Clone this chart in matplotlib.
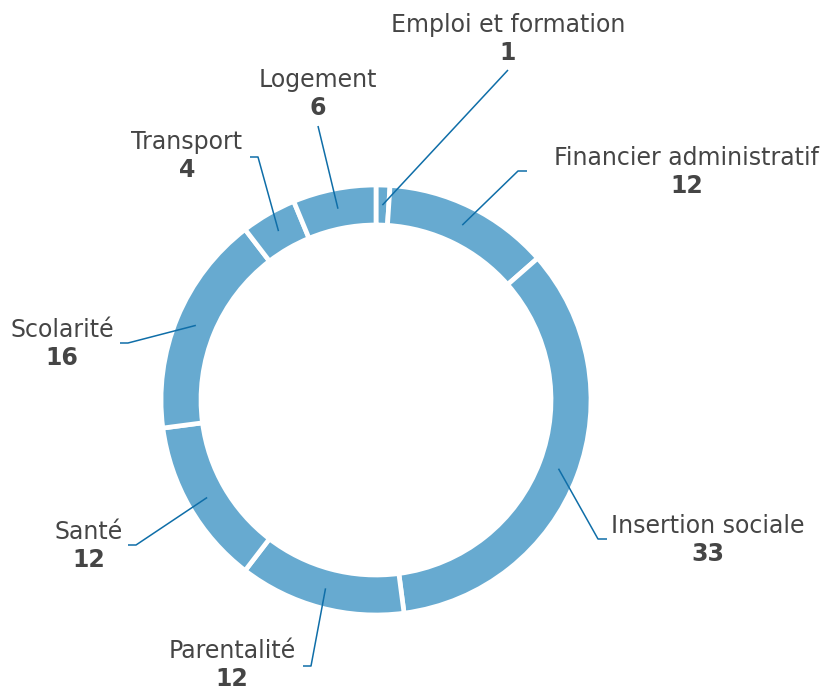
import numpy as np
import matplotlib
matplotlib.use("Agg")
import matplotlib.pyplot as plt

# data
categories = ["Emploi et formation", "Financier administratif", "Insertion sociale",
              "Parentalité", "Santé", "Scolarité", "Transport", "Logement"]
values = [1, 12, 33, 12, 12, 16, 4, 6]

W, H = 825, 690
ring_col = "#67aad0"
line_col = "#0f6ea8"
txt_col = "#454545"

# label layout in pixel coords: text centre x, name y, elbow point, end of short tick
labels_pos = {
    "Emploi et formation":     (508, 25, (508, 70), None),
    "Financier administratif": (687, 158, (518, 171), (527, 171)),
    "Insertion sociale":       (708, 526, (598, 539), (607, 539)),
    "Parentalité":             (232, 651, (311, 666), (303, 666)),
    "Santé":                   (89, 532, (136, 545), (128, 545)),
    "Scolarité":               (62, 330, (128, 343), (120, 343)),
    "Transport":               (187, 142, (258, 157), (250, 157)),
    "Logement":                (318, 80, (318, 126), None),
}

cx, cy = 376, 400
r_out, r_in = 215, 175

fig = plt.figure(figsize=(W / 100, H / 100), dpi=100)
ax = fig.add_axes([0, 0, 1, 1])

ax.pie(values, startangle=90, counterclock=False, radius=r_out, center=(cx, H - cy),
       colors=[ring_col] * len(values),
       wedgeprops=dict(width=r_out - r_in, edgecolor="white", linewidth=3.4),
       frame=True)
ax.set_xlim(0, W)
ax.set_ylim(0, H)
ax.set_aspect("equal")
ax.axis("off")

total = sum(values)
cum = 0
r_mid = (r_out + r_in) / 2
for cat, v in zip(categories, values):
    mid = (cum + v / 2) / total
    cum += v
    ang = np.deg2rad(90 - 360 * mid)
    sx = cx + r_mid * np.cos(ang)
    sy = cy - r_mid * np.sin(ang)
    tx, ty, elbow, tick = labels_pos[cat]
    px = [sx, elbow[0]]
    py = [sy, elbow[1]]
    if tick is not None:
        px.append(tick[0])
        py.append(tick[1])
    ax.plot(px, [H - p for p in py], color=line_col, lw=1.1, solid_capstyle="butt")
    ax.text(tx, H - ty, cat, ha="center", va="center", fontsize=17,
            color=txt_col, family="DejaVu Sans")
    ax.text(tx, H - ty - 28, str(v), ha="center", va="center", fontsize=17,
            color=txt_col, family="DejaVu Sans", fontweight="bold")

fig.savefig("out.png", dpi=100)
